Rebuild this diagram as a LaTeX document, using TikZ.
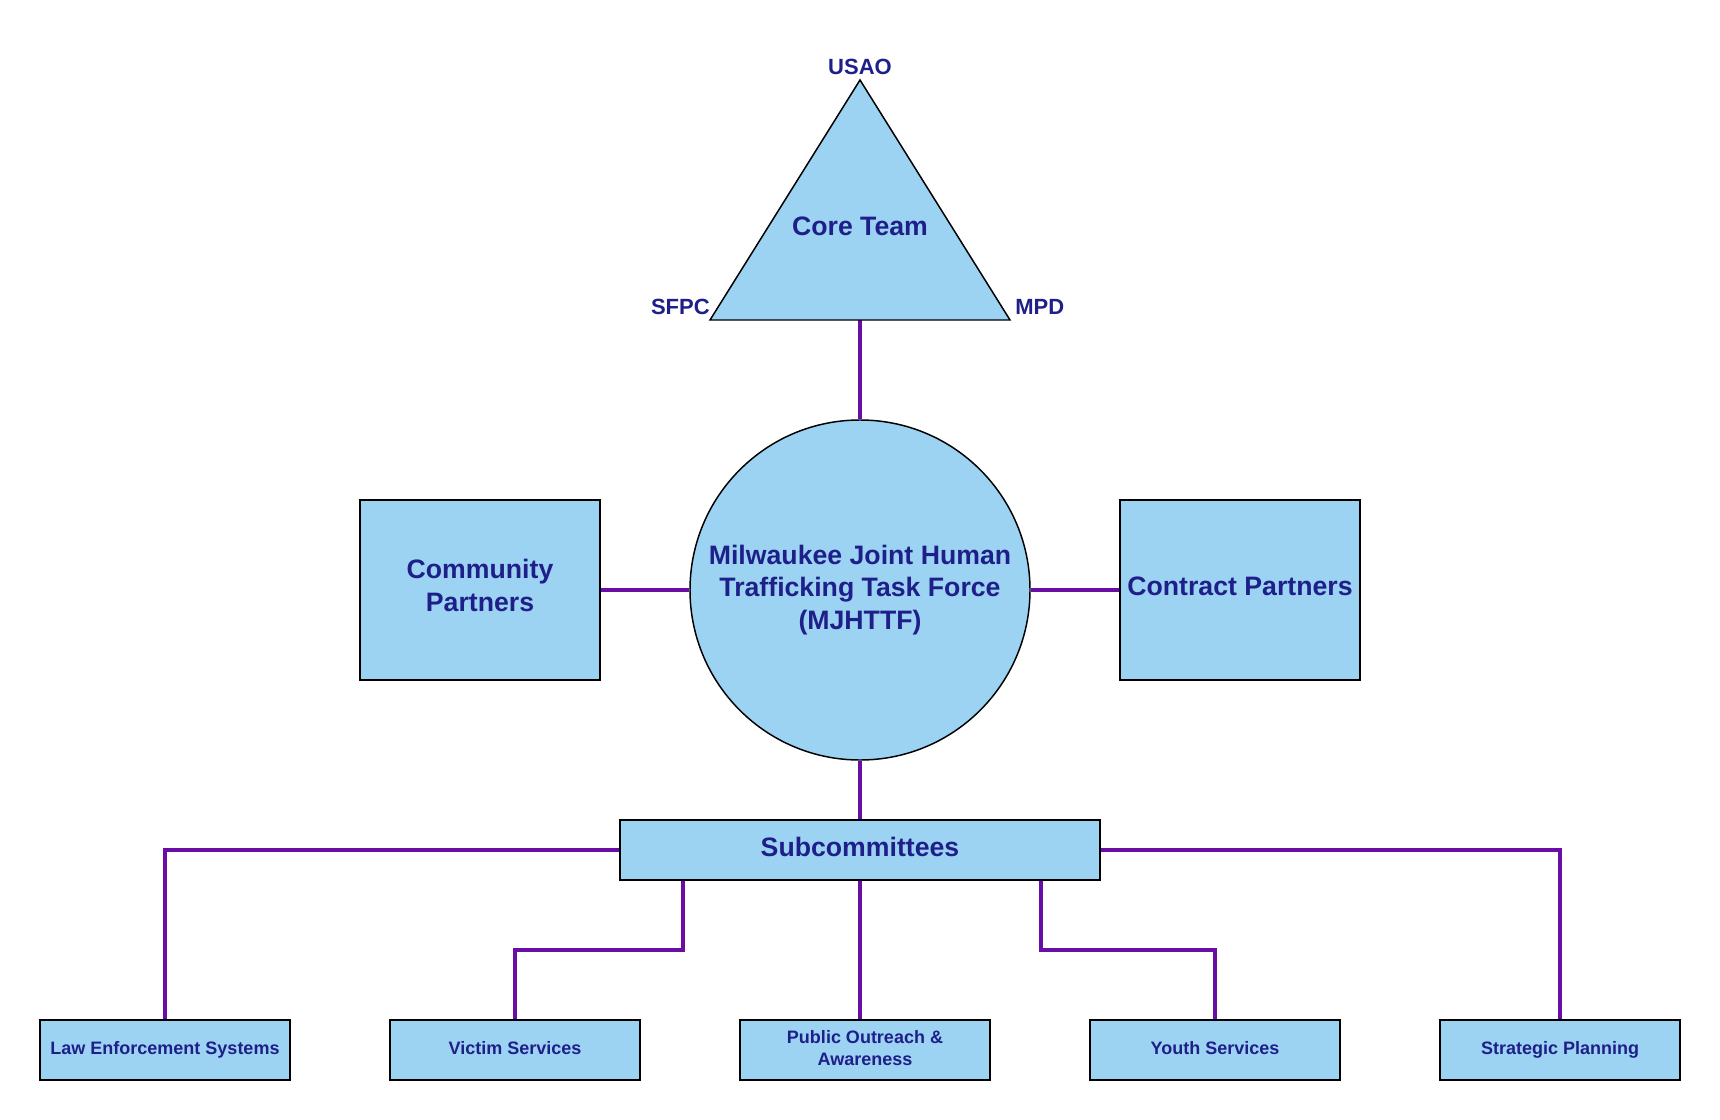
\documentclass[tikz,border=0pt]{standalone}
\usepackage{fontspec}
\setmainfont{Liberation Sans}
\usetikzlibrary{backgrounds}
\definecolor{fillblue}{HTML}{9CD3F2}
\definecolor{navy}{HTML}{1F1F8A}
\definecolor{conn}{HTML}{6A0DA6}
\begin{document}
\begin{tikzpicture}[x=0.75pt,y=-0.75pt,
  shapebox/.style={draw=black,line width=1.1pt,fill=fillblue,text=navy,
    font=\bfseries\fontsize{20}{24.6}\selectfont,align=center,inner sep=0pt},
  smallbox/.style={shapebox,minimum width=187.5pt,minimum height=45pt,text depth=3.3pt,
    font=\bfseries\fontsize{13.5}{16.5}\selectfont},
  link/.style={draw=conn,line width=2.8pt},
  lbl/.style={text=navy,font=\bfseries\fontsize{16.5}{20}\selectfont,inner sep=0pt}]
\useasboundingbox (0,0) rectangle (1720,1120);
% triangle
\coordinate (apex) at (860,80);
\coordinate (bl) at (710,320);
\coordinate (br) at (1010,320);
\coordinate (tribase) at (860,320);
\filldraw[fill=fillblue,draw=black,line width=1.1pt] (apex) -- (br) -- (bl) -- cycle;
\node[text=navy,font=\bfseries\fontsize{20}{24.6}\selectfont,inner sep=0pt] (core) at (860,226) {Core Team};
\node[lbl,anchor=base] (usao) at (860,75) {USAO};
\node[lbl,anchor=base east] (sfpc) at (710,314) {SFPC};
\node[lbl,anchor=base west] (mpd) at (1015,314) {MPD};
% main
\node[shapebox,circle,minimum size=255pt] (mj) at (860,590) {Milwaukee Joint Human\\Trafficking Task Force\\(MJHTTF)};
\node[shapebox,minimum width=180pt,minimum height=135pt,text depth=6.6pt] (comm) at (480,590) {Community\\Partners};
\node[shapebox,minimum width=180pt,minimum height=135pt,text depth=5pt] (contr) at (1240,590) {Contract Partners};
\node[shapebox,minimum width=360pt,minimum height=45pt,text depth=5pt] (sub) at (860,850) {Subcommittees};
% bottom
\node[smallbox] (law) at (165,1050) {Law Enforcement Systems};
\node[smallbox] (vic) at (515,1050) {Victim Services};
\node[smallbox] (pub) at (865,1050) {Public Outreach \&\\Awareness};
\node[smallbox] (youth) at (1215,1050) {Youth Services};
\node[smallbox,minimum width=180pt] (strat) at (1560,1050) {Strategic Planning};
\coordinate (vstart) at (683,880);
\coordinate (ystart) at (1041,880);
\begin{scope}[on background layer]
\draw[link] (tribase) -- (mj.north);
\draw[link] (comm.east) -- (mj.west);
\draw[link] (mj.east) -- (contr.west);
\draw[link] (mj.south) -- (sub.north);
\draw[link] (sub.west) -| (law.north);
\draw[link] (vstart) -- ++(0,70) -| (vic.north);
\draw[link] (sub.south) -- (sub.south |- pub.north);
\draw[link] (ystart) -- ++(0,70) -| (youth.north);
\draw[link] (sub.east) -| (strat.north);
\end{scope}
\end{tikzpicture}
\end{document}
